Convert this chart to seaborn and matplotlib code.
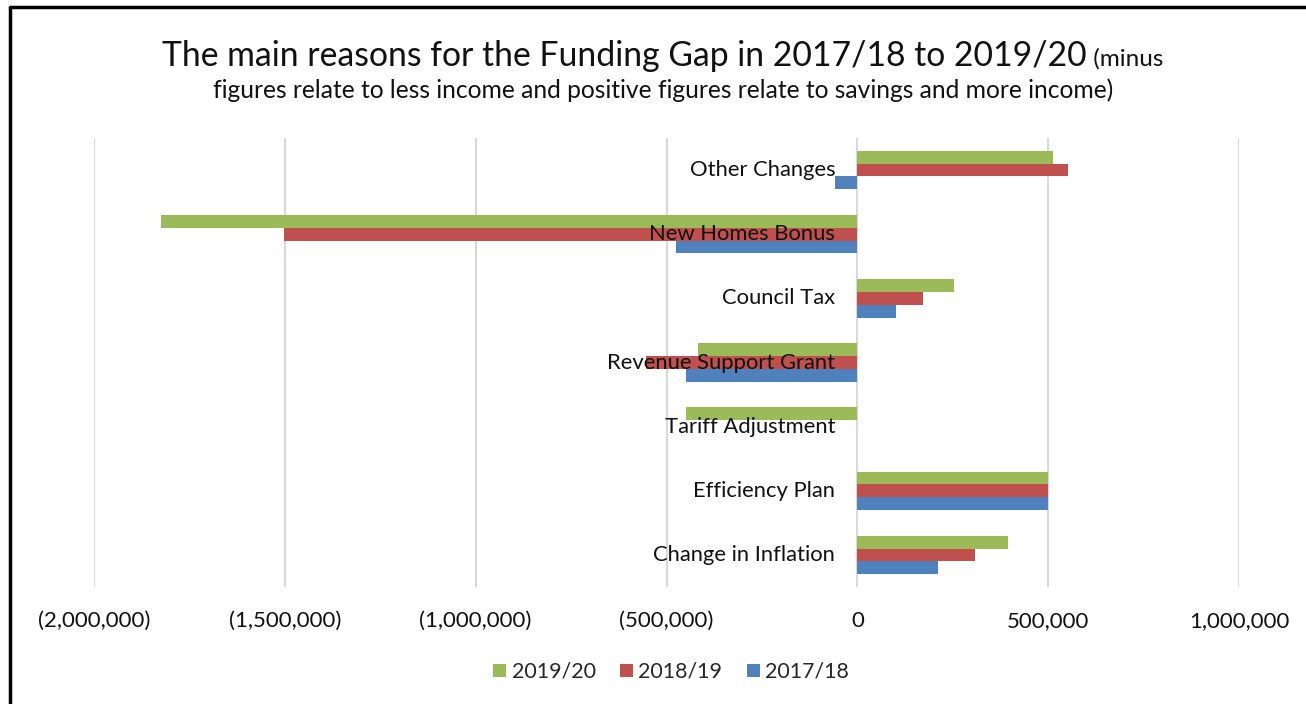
import pandas as pd
import numpy as np
import seaborn as sns
import matplotlib
matplotlib.use('Agg')
import matplotlib.pyplot as plt
import matplotlib.transforms as mtransforms
from matplotlib.lines import Line2D
from matplotlib.patches import Patch

categories = ["Other Changes", "New Homes Bonus", "Council Tax", "Revenue Support Grant",
              "Tariff Adjustment", "Efficiency Plan", "Change in Inflation"]
years = ["2019/20", "2018/19", "2017/18"]
vals_1920 = [513000, -1825000, 252000, -417000, -450000, 500000, 395000]
vals_1819 = [552000, -1503000, 172000, -555000, 0, 500000, 309000]
vals_1718 = [-58000, -476000, 100000, -450000, 0, 500000, 212000]
colors = ["#9BBB59", "#C0504D", "#4F81BD"]
xticks = [-2000000, -1500000, -1000000, -500000, 0, 500000, 1000000]

rows = []
for yr, vals in zip(years, [vals_1920, vals_1819, vals_1718]):
    for c, v in zip(categories, vals):
        rows.append({"category": c, "year": yr, "value": v})
df = pd.DataFrame(rows)

sns.set_theme(style="white")
plt.rcParams['font.family'] = ['Lato', 'DejaVu Sans']

fig = plt.figure(figsize=(13.06, 7.04), dpi=100)
ax = fig.add_axes([94 / 1306, 1 - 587 / 704, (1239 - 94) / 1306, (587 - 138) / 704])

sns.barplot(data=df, y="category", x="value", hue="year", order=categories,
            hue_order=years, palette=colors, saturation=1, width=0.6, orient="h",
            linewidth=0, ax=ax, legend=False)

ax.set_xlim(-2000000, 1000000)
ax.set_ylim(len(categories) - 0.5, -0.5)
ax.set_xticks(xticks)
ax.set_xticklabels([f"({abs(t):,})" if t < 0 else f"{t:,}" for t in xticks],
                   fontsize=16, color="#111111")
ax.tick_params(axis="x", length=0, pad=17)
ax.set_yticks([])
ax.set_xlabel("")
ax.set_ylabel("")
for s in ax.spines.values():
    s.set_visible(False)
ax.set_axisbelow(True)
for t in xticks:
    ax.axvline(t, color="#d9d9d9", lw=1.5, zorder=0)

# category labels sit next to the zero line
lab_tr = mtransforms.offset_copy(ax.transData, fig=fig, x=-22, y=0, units="dots")
for i, c in enumerate(categories):
    ax.text(0, i, c, transform=lab_tr, ha="right", va="center", fontsize=15.8, color="#111111")

# legend
handles = [Patch(facecolor=col, edgecolor="none") for col in colors]
fig.legend(handles, years, loc="center", bbox_to_anchor=(0.514, 1 - 672 / 704), ncol=3,
           frameon=False, fontsize=15.4, handlelength=0.6, handleheight=0.6,
           handletextpad=0.25, columnspacing=1.15)

# title: big part + small part on the same line
t1 = fig.text(0, 1 - 66 / 704, "The main reasons for the Funding Gap in 2017/18 to 2019/20",
              fontsize=24.3, ha="left", va="baseline", color="#111111")
t2 = fig.text(0, 1 - 66 / 704, " (minus", fontsize=17.5, ha="left", va="baseline", color="#111111")
fig.canvas.draw()
r = fig.canvas.get_renderer()
w1 = t1.get_window_extent(r).width
w2 = t2.get_window_extent(r).width
x0 = (663 - (w1 + w2) / 2)
t1.set_x(x0 / 1306)
t2.set_x((x0 + w1) / 1306)
fig.text(663 / 1306, 1 - 98 / 704,
         "figures relate to less income and positive figures relate to savings and more income)",
         fontsize=17.7, ha="center", va="baseline", color="#111111")

# frame edges visible in the crop
fig.add_artist(Line2D([10 / 1306, 10 / 1306], [0, 1 - 7 / 704], color="black", lw=2.5))
fig.add_artist(Line2D([10 / 1306, 1], [1 - 7 / 704, 1 - 7 / 704], color="black", lw=2.5))

fig.savefig("out.png", dpi=100)
